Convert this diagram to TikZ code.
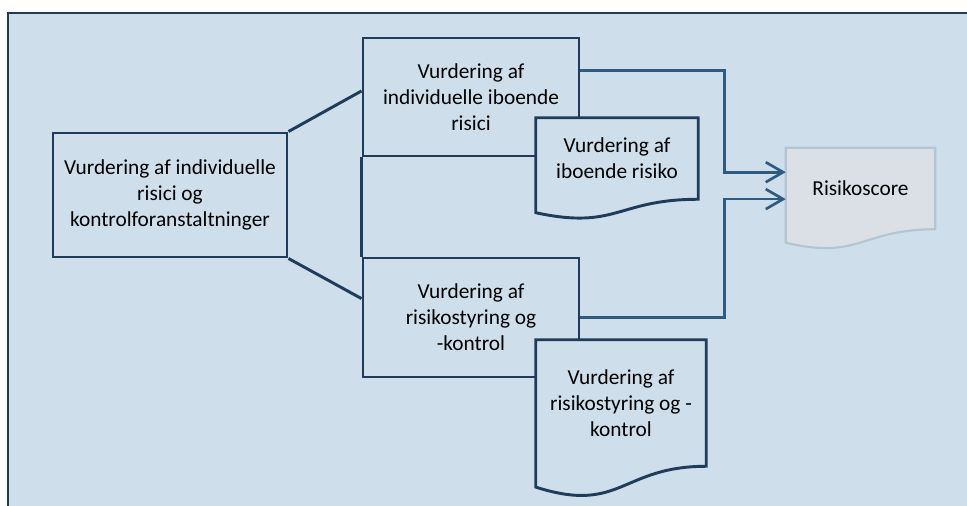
\documentclass[tikz,border=0pt]{standalone}
\usepackage{fontspec}
\setmainfont{Carlito}
\usetikzlibrary{arrows.meta, calc}
\definecolor{paneblue}{HTML}{CEDEEA}
\definecolor{linedark}{HTML}{1F3D5A}
\definecolor{arrowblue}{HTML}{2E5B82}
\definecolor{scorefill}{HTML}{DAE0E6}
\definecolor{scoreline}{HTML}{B3C5D2}
\pgfdeclarelayer{front}
\pgfsetlayers{main,front}

% outline of a document shape round a named node
\newcommand{\docoutline}[2]{%
  \draw[#2] let \p1 = ($(#1.north)-(#1.south)$) in
    (#1.north west) -- (#1.north east) -- (#1.south east)
    .. controls (#1.south) and ($(#1.south)+(0pt,-0.38*\y1)$) ..
    ($(#1.south west)+(0pt,-0.1646*\y1)$) -- cycle;}

\begin{document}
\begin{tikzpicture} [
      x=0.75pt, y=-0.75pt,
      font=\fontsize{16}{19.5}\selectfont,
      >={Straight Barb[length=13pt, width=15pt]},
      box/.style={rectangle, draw=linedark, line width=2.2pt, fill=paneblue, inner sep=0pt, align=center, text=black},
      doctext/.style={rectangle, inner sep=0pt, align=center, text=black},
      docline/.style={draw=linedark, line width=2.2pt, fill=paneblue},
      scoreline/.style={draw=scoreline, line width=1.6pt, fill=scorefill},
      link/.style={draw=linedark, line width=2.2pt},
      flow/.style={->, draw=arrowblue, line width=2pt}
  ]
  \useasboundingbox (0,0) rectangle (967,506);
  \clip (0,0) rectangle (967,506);
  \fill[paneblue] (8,13) rectangle (980,520);
  \draw[linedark, line width=2pt] (8,520) -- (8,13) -- (980,13);

  \node[box, minimum width=175.5pt, minimum height=93pt] (risk) at (170,195) {Vurdering af individuelle\\risici og\\kontrolforanstaltninger};
  \node[box, minimum width=162pt, minimum height=88.5pt] (iboende) at (471,97) {Vurdering af\\individuelle iboende\\risici};
  \node[box, minimum width=162pt, minimum height=89.25pt] (styring) at (471,317.5) {Vurdering af\\risikostyring og\\-kontrol};

  \draw[link] (risk.north east) -- ($(iboende.north west)!0.45!(iboende.south west)$);
  \draw[link] (risk.south east) -- ($(styring.north west)!0.345!(styring.south west)$);
  \draw[link] (iboende.south west) -- (styring.north west);

  \begin{pgfonlayer}{front}
  \node[doctext, minimum width=121.5pt, minimum height=60.75pt] (iboendedoc) at (617,158.5) {Vurdering af\\iboende risiko};
  \node[doctext, minimum width=127.5pt, minimum height=94.5pt] (styringdoc) at (621,403) {Vurdering af\\risikostyring og -\\kontrol};
  \node[doctext, minimum width=111.75pt, minimum height=60.75pt] (score) at (860.5,188.5) {Risikoscore};
  \end{pgfonlayer}

  \docoutline{iboendedoc}{docline}
  \docoutline{styringdoc}{docline}
  \docoutline{score}{scoreline}

  \draw[flow] ($(iboende.north east)!0.28!(iboende.south east)$) -- ++(144,0) |- ($(score.north west)!0.3!(score.south west)$);
  \draw[flow] (styring.east) -- ++(144,0) |- ($(score.north west)!0.63!(score.south west)$);
\end{tikzpicture}
\end{document}
